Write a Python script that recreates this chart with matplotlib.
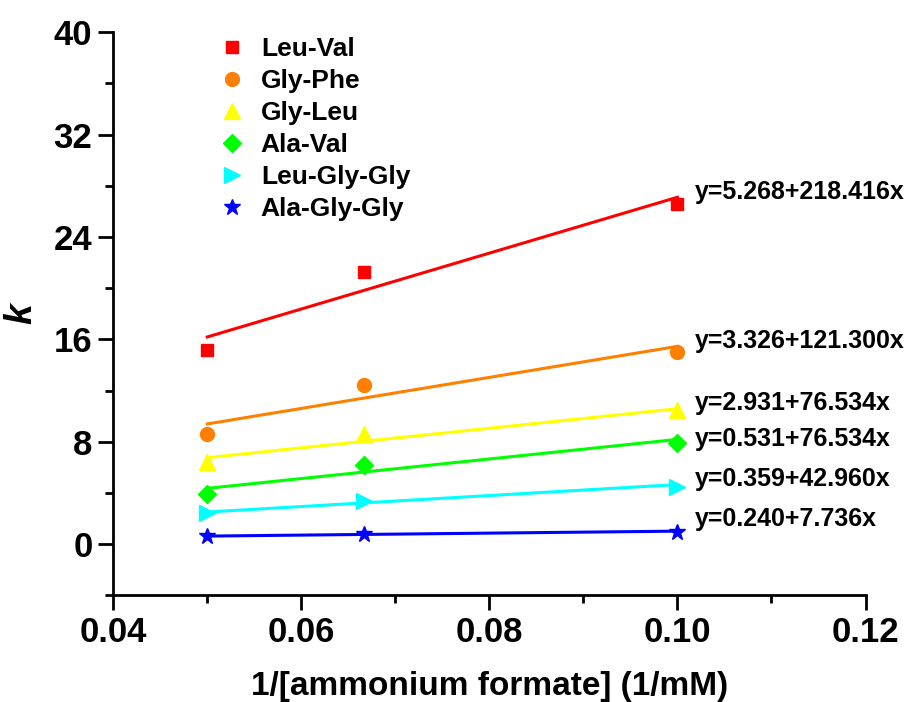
import numpy as np
import matplotlib.pyplot as plt
from matplotlib.ticker import MultipleLocator, FormatStrFormatter

# datos
x = [0.05, 0.0667, 0.10]
nombres = ["Leu-Val", "Gly-Phe", "Gly-Leu", "Ala-Val", "Leu-Gly-Gly", "Ala-Gly-Gly"]
k_leuval = [15.2, 21.3, 26.6]
k_glyphe = [8.6, 12.4, 15.0]
k_glyleu = [6.4, 8.6, 10.5]
k_alaval = [3.9, 6.2, 7.9]
k_leuglygly = [2.4, 3.4, 4.5]
k_alaglygly = [0.6, 0.8, 0.95]
intercepto = [5.268, 3.326, 2.931, 0.531, 0.359, 0.240]
pendiente = [218.416, 121.300, 76.534, 76.534, 42.960, 7.736]
etiqueta_y = [27.5, 15.9, 11.0, 8.2, 5.1, 2.0]

colores = ["#ff0000", "#ff8000", "#ffff00", "#00ff00", "#00ffff", "#0000ff"]
marcadores = ["s", "o", "^", "D", ">", "*"]
tamanos = [9, 10, 11, 9, 12, 12]
series = [k_leuval, k_glyphe, k_glyleu, k_alaval, k_leuglygly, k_alaglygly]

plt.rcParams["font.family"] = ["Liberation Sans", "DejaVu Sans"]
plt.rcParams["font.weight"] = "bold"

fig = plt.figure(figsize=(9.13, 7.02), dpi=100)
ax = fig.add_axes([0.124, 0.152, 0.824, 0.802])

xs = np.array([0.05, 0.10])
for i in range(6):
    ax.plot(x, series[i], linestyle="none", marker=marcadores[i], color=colores[i],
            markersize=tamanos[i], label=nombres[i], clip_on=False)
    ax.plot(xs, intercepto[i] + pendiente[i] * xs, color=colores[i], lw=2.2)
    ax.text(0.1019, etiqueta_y[i], "y=%.3f+%.3fx" % (intercepto[i], pendiente[i]),
            fontsize=18, fontweight="bold", va="center", ha="left")

ax.set_xlim(0.04, 0.12)
ax.set_ylim(-4, 40)
ax.xaxis.set_major_locator(MultipleLocator(0.02))
ax.xaxis.set_minor_locator(MultipleLocator(0.01))
ax.yaxis.set_major_locator(MultipleLocator(8))
ax.yaxis.set_minor_locator(MultipleLocator(4))
ax.xaxis.set_major_formatter(FormatStrFormatter("%.2f"))

for s in ["top", "right"]:
    ax.spines[s].set_visible(False)
for s in ["left", "bottom"]:
    ax.spines[s].set_linewidth(2)

ax.tick_params(which="major", direction="out", length=11, width=2, labelsize=25, pad=4)
ax.tick_params(which="minor", direction="out", length=6, width=2)
for lab in ax.get_xticklabels() + ax.get_yticklabels():
    lab.set_fontweight("bold")

ax.set_xlabel("1/[ammonium formate] (1/mM)", fontsize=24, fontweight="bold", labelpad=16)
ax.set_ylabel("k", fontsize=27, fontweight="bold", style="italic", labelpad=10)

ax.legend(loc="upper left", bbox_to_anchor=(0.105, 1.033), frameon=False, fontsize=19,
          handlelength=1.2, handletextpad=0.5, labelspacing=0.3, markerscale=1.0)

fig.savefig("out.png", dpi=100)
